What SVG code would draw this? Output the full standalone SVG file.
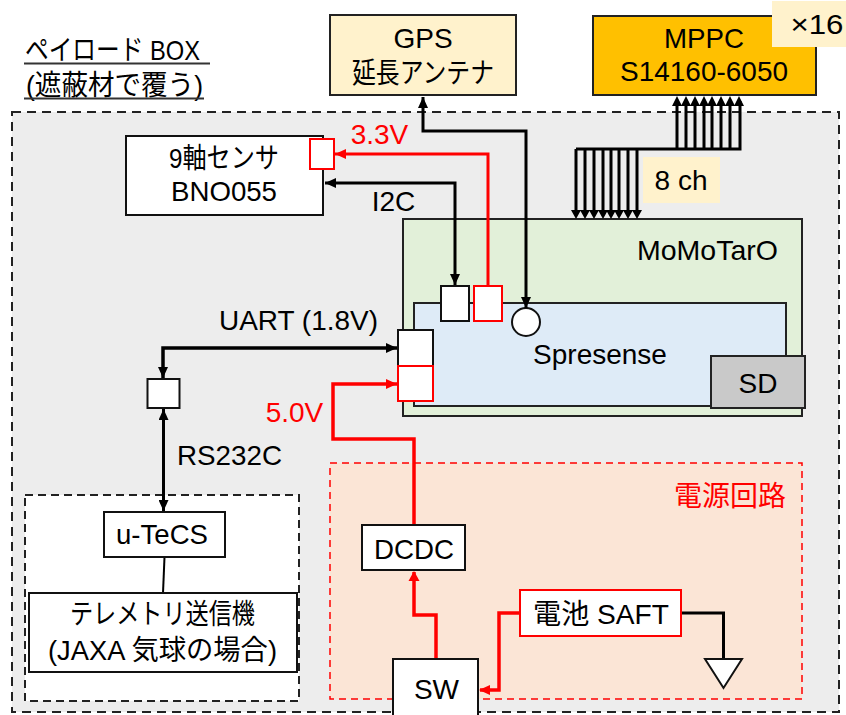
<svg xmlns="http://www.w3.org/2000/svg" width="846" height="715" viewBox="0 0 846 715">
<style>
text{font-family:"Liberation Sans","Noto Sans CJK JP",sans-serif;font-size:28px;fill:#000;text-anchor:middle}
.l{text-anchor:start}
.r{fill:#f00}
.b{stroke:#111;stroke-width:2;fill:#fff}
.rb{stroke:#f00;stroke-width:2;fill:#fff}
.k{fill:none;stroke:#000;stroke-width:3}
.k4{fill:none;stroke:#000;stroke-width:3.500}
.red{fill:none;stroke:#f00;stroke-width:3.500}
</style>
<defs>
<marker id="ak" markerUnits="userSpaceOnUse" markerWidth="12" markerHeight="10" refX="11" refY="5" orient="auto-start-reverse"><path d="M0 0L11 5L0 10Z" fill="#000"/></marker>
<marker id="ar" markerUnits="userSpaceOnUse" markerWidth="12" markerHeight="10" refX="11" refY="5" orient="auto-start-reverse"><path d="M0 0L11 5L0 10Z" fill="#f00"/></marker>
</defs>
<g id="payload-box">
<rect x="12" y="112" width="827" height="600" fill="#ededed" stroke="#222" stroke-width="2" stroke-dasharray="9 6"/>
<text class="l" x="25" y="60" textLength="175" lengthAdjust="spacingAndGlyphs">ペイロード BOX</text>
<text class="l" x="26" y="95" textLength="177" lengthAdjust="spacingAndGlyphs">(遮蔽材で覆う)</text>
<path d="M24 63.500H210M24 98.500H204" stroke="#333" stroke-width="2" fill="none"/>
</g>
<g id="gps"><rect x="330" y="15" width="186" height="80" fill="#fff2cc" stroke="#222" stroke-width="2"/><text x="423" y="48">GPS</text><text x="423" y="83" textLength="142" lengthAdjust="spacingAndGlyphs">延長アンテナ</text></g>
<g id="mppc"><rect x="593" y="16" width="223" height="79" fill="#ffc000" stroke="#222" stroke-width="2"/><text x="704" y="48" textLength="80" lengthAdjust="spacingAndGlyphs">MPPC</text><text x="704" y="81" textLength="168" lengthAdjust="spacingAndGlyphs">S14160-6050</text></g>
<g id="x16"><rect x="772" y="1" width="74" height="46" fill="#fff2cc"/><text x="817" y="34" textLength="53" lengthAdjust="spacingAndGlyphs">×16</text></g>
<g id="sensor"><rect x="126" y="136" width="197" height="79" class="b"/><text x="224" y="168" textLength="110" lengthAdjust="spacingAndGlyphs">9軸センサ</text><text x="224" y="201" textLength="106" lengthAdjust="spacingAndGlyphs">BNO055</text></g>
<g id="sensor-port"><rect x="310" y="139" width="24" height="30" class="rb"/></g>
<g id="momotaro"><rect x="403" y="219" width="399" height="197" fill="#e2f0d9" stroke="#222" stroke-width="2"/><text x="707.500" y="260" textLength="141" lengthAdjust="spacingAndGlyphs">MoMoTarO</text></g>
<g id="spresense"><rect x="414" y="303" width="372" height="103" fill="#deebf7" stroke="#222" stroke-width="2"/><text x="600" y="364">Spresense</text></g>
<g id="sd"><rect x="711" y="356" width="94" height="52" fill="#c9c9c9" stroke="#222" stroke-width="2"/><text x="758" y="393">SD</text></g>
<g id="i2c-port"><rect x="441" y="286" width="28" height="35" class="b"/></g>
<g id="power-port"><rect x="474" y="286" width="28" height="35" class="rb"/></g>
<g id="gps-port"><circle cx="526" cy="322" r="14" class="b"/></g>
<g id="uart-port"><rect x="398" y="330" width="35" height="36" class="b"/></g>
<g id="five-port"><rect x="398" y="366" width="35" height="35" class="rb"/></g>
<g id="rs232-port"><rect x="147.500" y="379" width="32" height="29" class="b"/></g>
<g id="power-circuit"><rect x="330" y="463" width="472" height="236" fill="#fbe5d6" stroke="#f00" stroke-width="1.500" stroke-dasharray="7 5"/><text class="r" x="730" y="506">電源回路</text></g>
<g id="telemetry-box"><rect x="25" y="495" width="274" height="206" fill="#fff" stroke="#222" stroke-width="2" stroke-dasharray="8 5"/></g>
<g id="connectors">
<path class="k" d="M423 97V131H526V308" marker-start="url(#ak)" marker-end="url(#ak)"/>
<path class="k" d="M325 183H455V285" marker-start="url(#ak)" marker-end="url(#ak)"/>
<path class="red" d="M488 286V154H335" marker-end="url(#ar)" style="stroke-width:3"/>
<path class="k4" d="M397 348H163V378" marker-end="url(#ak)" marker-start="url(#ak)"/>
<path class="k" d="M163.500 409V511" marker-start="url(#ak)" marker-end="url(#ak)"/>
<path class="red" d="M397 384H333V439H414V525"/>
<path d="M397 384L386 379V389Z" fill="#f00"/>
<path class="red" d="M414 572V615H436V659"/>
<path d="M414 571L408.500 581H419.500Z" fill="#f00"/>
<path class="red" d="M520 613H499V690H480"/>
<path d="M479 690L490 685V695Z" fill="#f00"/>
<path class="k" d="M681 613H723.500V659"/>
<path d="M164.500 557L163 593" stroke="#000" stroke-width="2" fill="none"/>
<path d="M576 149H740V101M576 149V212M585 149V212M594 149V212M603 149V212M611 149V212M619 149V212M628 149V212M637 149V212" class="k"/>
<path d="M677 148V101M686 148V101M695 148V101M704 148V101M712 148V101M721 148V101M730 148V101" class="k"/>
<g fill="#000">
<path d="M571 210h10l-5 9zM580 210h10l-5 9zM589 210h10l-5 9zM598 210h10l-5 9zM606 210h10l-5 9zM614 210h10l-5 9zM623 210h10l-5 9zM632 210h10l-5 9z"/>
<path d="M677 96l-5 10h10zM686 96l-5 10h10zM695 96l-5 10h10zM704 96l-5 10h10zM712 96l-5 10h10zM721 96l-5 10h10zM730 96l-5 10h10zM739 96l-5 10h10z"/>
</g>
</g>
<g id="eightch"><rect x="643" y="157" width="77" height="46" fill="#fff2cc"/><text x="681" y="190">8 ch</text></g>
<g id="labels">
<text class="r" x="379.500" y="144">3.3V</text>
<text x="393.500" y="211">I2C</text>
<text x="298.500" y="330" textLength="159" lengthAdjust="spacingAndGlyphs">UART (1.8V)</text>
<text class="r" x="294.500" y="422">5.0V</text>
<text x="229.500" y="465" textLength="105" lengthAdjust="spacingAndGlyphs">RS232C</text>
</g>
<g id="utecs"><rect x="104" y="512" width="121" height="45" class="b"/><text x="162" y="544" textLength="92" lengthAdjust="spacingAndGlyphs">u-TeCS</text></g>
<g id="telemetry"><rect x="29" y="593" width="268" height="79" class="b"/><text x="162.500" y="624" textLength="185" lengthAdjust="spacingAndGlyphs">テレメトリ送信機</text><text x="162.500" y="660" textLength="229" lengthAdjust="spacingAndGlyphs">(JAXA 気球の場合)</text></g>
<g id="dcdc"><rect x="362" y="525" width="103" height="45" class="b"/><text x="414" y="559" textLength="80" lengthAdjust="spacingAndGlyphs">DCDC</text></g>
<g id="sw"><rect x="393" y="659" width="85" height="62" class="b"/><text x="436.500" y="699">SW</text></g>
<g id="battery"><rect x="520" y="590" width="161" height="46" class="rb"/><text x="601" y="624" textLength="136" lengthAdjust="spacingAndGlyphs">電池 SAFT</text></g>
<g id="ground"><path d="M705 659H742L723.500 688Z" class="b"/></g>
</svg>
